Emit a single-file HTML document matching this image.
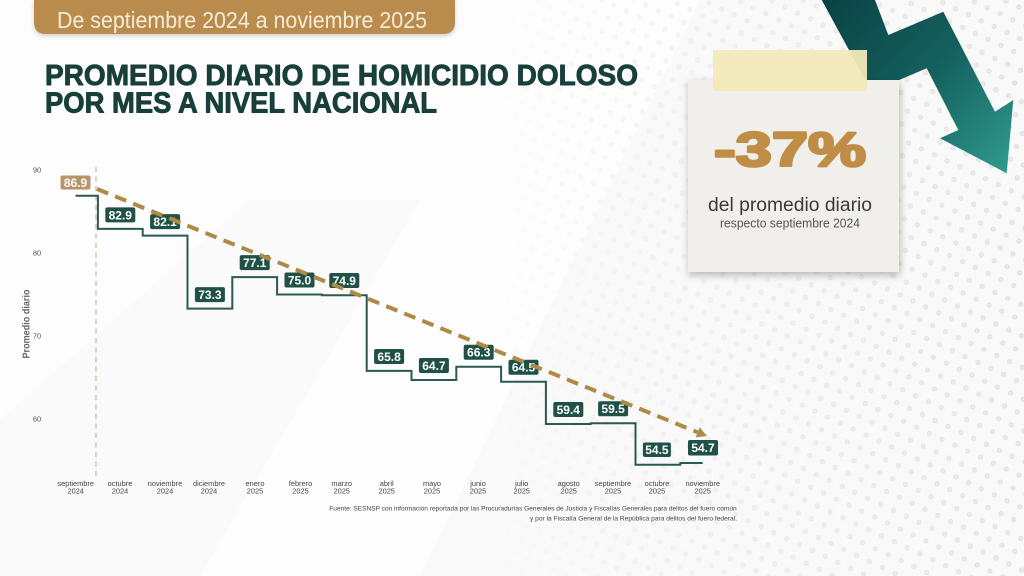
<!DOCTYPE html>
<html><head><meta charset="utf-8"><style>
html,body{margin:0;padding:0;width:1024px;height:576px;overflow:hidden;background:#f9f9f9}
svg{display:block}
</style></head><body>
<svg width="1024" height="576" viewBox="0 0 1024 576" xmlns="http://www.w3.org/2000/svg" font-family="'Liberation Sans', sans-serif">
<defs>
<pattern id="dots" width="20" height="20" patternUnits="userSpaceOnUse" patternTransform="rotate(-20)">
<circle cx="5" cy="5" r="2.6" fill="#e2e2e2"/><circle cx="5" cy="5" r="1.2" fill="#ececec"/>
<circle cx="15" cy="15" r="2.6" fill="#e2e2e2"/><circle cx="15" cy="15" r="1.2" fill="#ececec"/>
</pattern>
<linearGradient id="fade" x1="0" y1="0" x2="1" y2="0">
<stop offset="0" stop-color="#fff" stop-opacity="0"/><stop offset="0.45" stop-color="#fff" stop-opacity="0.5"/><stop offset="1" stop-color="#fff" stop-opacity="1"/>
</linearGradient>
<mask id="m"><rect x="480" y="0" width="544" height="576" fill="url(#fade)"/></mask>
<linearGradient id="arr" x1="830" y1="0" x2="1010" y2="170" gradientUnits="userSpaceOnUse">
<stop offset="0" stop-color="#0b4345"/><stop offset="0.5" stop-color="#14605e"/><stop offset="1" stop-color="#2f9a8e"/>
</linearGradient>
<filter id="sh" x="-10%" y="-10%" width="125%" height="130%"><feDropShadow dx="1" dy="3" stdDeviation="4" flood-color="#000" flood-opacity="0.28"/></filter>
<filter id="sh2" x="-5%" y="-20%" width="110%" height="160%"><feDropShadow dx="0" dy="2" stdDeviation="2" flood-color="#000" flood-opacity="0.18"/></filter>
</defs>

<!-- background -->
<rect width="1024" height="576" fill="#f9f9f9"/>
<polygon points="0,0 700,0 420,576 0,576" fill="#fdfdfd"/>
<polygon points="0,420 250,200 420,200 200,576 0,576" fill="#f7f7f7" opacity="0.5"/>
<rect x="480" y="0" width="544" height="576" fill="url(#dots)" mask="url(#m)"/>

<!-- header pill -->
<path d="M34,0 H455 V22 Q455,34 443,34 H46 Q34,34 34,22 Z" fill="#b98c4d" filter="url(#sh2)"/>
<text x="57" y="28" font-size="23" fill="#f6ecd6" textLength="370" lengthAdjust="spacingAndGlyphs">De septiembre 2024 a noviembre 2025</text>

<!-- title -->
<g fill="#183f3a" stroke="#183f3a" stroke-width="0.9" stroke-linejoin="round">
<text x="45" y="85" font-size="29" font-weight="bold" textLength="593" lengthAdjust="spacingAndGlyphs">PROMEDIO DIARIO DE HOMICIDIO DOLOSO</text>
<text x="45" y="112.5" font-size="29" font-weight="bold" textLength="392" lengthAdjust="spacingAndGlyphs">POR MES A NIVEL NACIONAL</text>
</g>

<!-- arrow -->
<polygon points="821.7,0 871.7,91.7 926.7,68.3 958.3,130 940,138.3 1006.7,173.3 1013.3,100 995,111.7 943.3,11.7 888.3,35 875,0" fill="url(#arr)"/>

<!-- card -->
<rect x="688" y="80" width="211" height="192" fill="#f0efeb" filter="url(#sh)"/>
<rect x="713" y="50" width="154" height="41" fill="#f2e9b9" opacity="0.95"/>
<text x="714" y="166" font-size="48" font-weight="bold" fill="#c08d46" stroke="#c08d46" stroke-width="2.6" stroke-linejoin="round" textLength="152" lengthAdjust="spacingAndGlyphs">-37%</text>
<text x="708" y="211" font-size="19" fill="#3a3a3a" textLength="164" lengthAdjust="spacingAndGlyphs">del promedio diario</text>
<text x="720" y="227.5" font-size="12.5" fill="#555" textLength="140" lengthAdjust="spacingAndGlyphs">respecto septiembre 2024</text>

<!-- y axis -->
<g font-size="7.5" fill="#555" text-anchor="middle">
<text x="37" y="172.5">90</text>
<text x="37" y="255.5">80</text>
<text x="37" y="338.5">70</text>
<text x="37" y="421.5">60</text>
</g>
<text transform="translate(29.5,324) rotate(-90)" font-size="10" font-weight="bold" fill="#666" text-anchor="middle" textLength="69" lengthAdjust="spacingAndGlyphs">Promedio diario</text>

<!-- vertical dotted -->
<line x1="96" y1="167" x2="96" y2="477" stroke="#cbbd9e" stroke-width="1.3" stroke-dasharray="5 4.5"/>

<!-- step line -->
<path d="M75.5 195.7 H97.9 V228.9 H142.7 V235.6 H187.5 V308.6 H232.3 V277.1 H277.1 V294.5 H321.9 V295.3 H366.7 V370.9 H411.5 V380 H456.3 V366.7 H501.1 V381.7 H545.9 V424 H590.7 V423.2 H635.5 V464.7 H680.3 V463 H702.7" fill="none" stroke="#2b5a4f" stroke-width="2"/>

<!-- labels -->
<g font-size="12" font-weight="bold" fill="#fff" text-anchor="middle">
<rect x="60.5" y="175.5" width="30" height="14" rx="2" fill="#b8946a"/><text x="75.5" y="187">86.9</text>
<rect x="105.3" y="207.4" width="30" height="15" rx="2" fill="#1f5146"/><text x="120.3" y="219.3">82.9</text>
<rect x="150.1" y="214.1" width="30" height="15" rx="2" fill="#1f5146"/><text x="165.1" y="226">82.1</text>
<rect x="194.9" y="287.1" width="30" height="15" rx="2" fill="#1f5146"/><text x="209.9" y="299">73.3</text>
<rect x="239.7" y="255.1" width="30" height="15" rx="2" fill="#1f5146"/><text x="254.7" y="267">77.1</text>
<rect x="284.5" y="272.5" width="30" height="15" rx="2" fill="#1f5146"/><text x="299.5" y="284.4">75.0</text>
<rect x="329.3" y="273" width="30" height="15" rx="2" fill="#1f5146"/><text x="344.3" y="284.9">74.9</text>
<rect x="374.1" y="349" width="30" height="15" rx="2" fill="#1f5146"/><text x="389.1" y="360.9">65.8</text>
<rect x="418.9" y="358" width="30" height="15" rx="2" fill="#1f5146"/><text x="433.9" y="369.9">64.7</text>
<rect x="463.7" y="344.7" width="30" height="15" rx="2" fill="#1f5146"/><text x="478.7" y="356.6">66.3</text>
<rect x="508.5" y="359.7" width="30" height="15" rx="2" fill="#1f5146"/><text x="523.5" y="371.6">64.5</text>
<rect x="553.3" y="402" width="30" height="15" rx="2" fill="#1f5146"/><text x="568.3" y="413.9">59.4</text>
<rect x="598.1" y="401.2" width="30" height="15" rx="2" fill="#1f5146"/><text x="613.1" y="413.1">59.5</text>
<rect x="642.9" y="442.5" width="28" height="14.5" rx="2" fill="#1f5146"/><text x="656.9" y="454">54.5</text>
<rect x="688" y="440" width="30" height="15.5" rx="2" fill="#1f5146"/><text x="703" y="452">54.7</text>
</g>

<!-- trend dashed -->
<line x1="97" y1="189" x2="697.7" y2="432.3" stroke="#ad8a45" stroke-width="4" stroke-dasharray="12 7.5"/>
<polygon points="707,436 695.7,437.4 699.7,427.2" fill="#ad8a45"/>

<!-- x labels -->
<g font-size="7.4" fill="#444" text-anchor="middle">
<text x="75.7" y="486">septiembre</text><text x="75.7" y="493.5">2024</text>
<text x="120" y="486">octubre</text><text x="120" y="493.5">2024</text>
<text x="165" y="486">noviembre</text><text x="165" y="493.5">2024</text>
<text x="209" y="486">diciembre</text><text x="209" y="493.5">2024</text>
<text x="255" y="486">enero</text><text x="255" y="493.5">2025</text>
<text x="300.5" y="486">febrero</text><text x="300.5" y="493.5">2025</text>
<text x="341.7" y="486">marzo</text><text x="341.7" y="493.5">2025</text>
<text x="386.7" y="486">abril</text><text x="386.7" y="493.5">2025</text>
<text x="432" y="486">mayo</text><text x="432" y="493.5">2025</text>
<text x="478" y="486">junio</text><text x="478" y="493.5">2025</text>
<text x="521.7" y="486">julio</text><text x="521.7" y="493.5">2025</text>
<text x="568.7" y="486">agosto</text><text x="568.7" y="493.5">2025</text>
<text x="613" y="486">septiembre</text><text x="613" y="493.5">2025</text>
<text x="657" y="486">octubre</text><text x="657" y="493.5">2025</text>
<text x="702.7" y="486">noviembre</text><text x="702.7" y="493.5">2025</text>
</g>

<!-- footnote -->
<text x="329.3" y="510.5" font-size="6.3" fill="#444" textLength="407.4" lengthAdjust="spacingAndGlyphs">Fuente: SESNSP con información reportada por las Procuradurías Generales de Justicia y Fiscalías Generales para delitos del fuero común</text>
<text x="530" y="520.5" font-size="6.3" fill="#444" textLength="207" lengthAdjust="spacingAndGlyphs">y por la Fiscalía General de la República para delitos del fuero federal.</text>
</svg>
</body></html>
